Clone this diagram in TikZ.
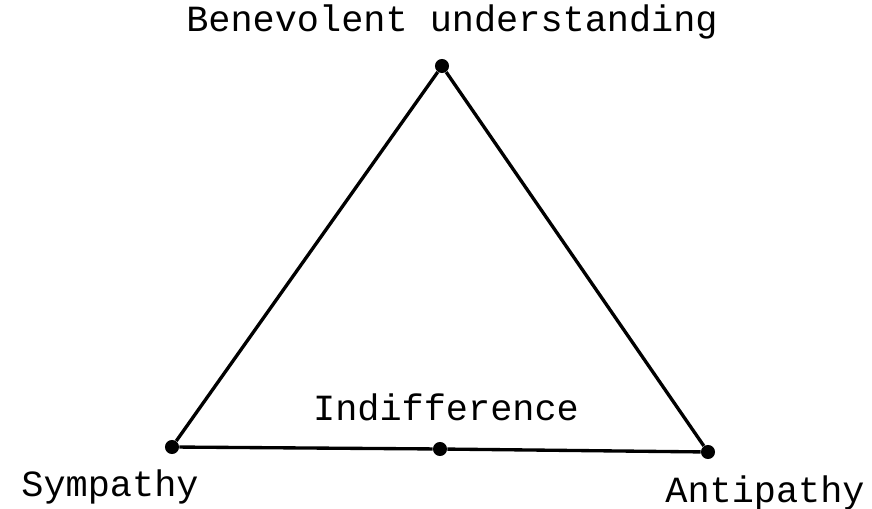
\documentclass[tikz,border=0pt]{standalone}
\usepackage{fontspec}
\setmonofont{Liberation Mono}
\usetikzlibrary{positioning}

\begin{document}
\begin{tikzpicture}[
  x=0.02cm, y=-0.02cm,
  vertex/.style={circle, fill=black, inner sep=0pt, minimum size=8pt},
  term/.style={anchor=base, inner sep=0pt, font=\fontsize{21}{25}\selectfont\ttfamily},
  side/.style={line width=1.9pt},
]
  \useasboundingbox (0,0) rectangle (872,509);
  % corners of the triangle
  \node[vertex] (ben) at (442,66) {};
  \node[vertex] (sym) at (172,447) {};
  \node[vertex] (ind) at (440,449) {};
  \node[vertex] (ant) at (708,452) {};
  % labels
  \node[term] (lben) at (452,32) {Benevolent understanding};
  \node[term] (lind) at (446,421) {Indifference};
  \node[term] (lsym) at (110,497) {Sympathy};
  \node[term] (lant) at (765,502) {Antipathy};
  % sides
  \draw[side] (ben) -- (sym);
  \draw[side] (ben) -- (ant);
  \draw[side] (sym) -- (ind) -- (ant);
\end{tikzpicture}
\end{document}
